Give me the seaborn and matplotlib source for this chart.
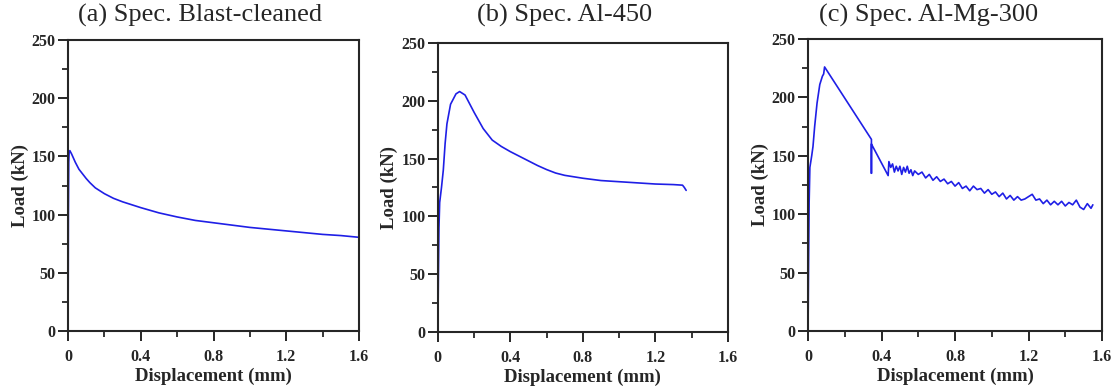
import numpy as np
import pandas as pd
import seaborn as sns
import matplotlib.pyplot as plt
from matplotlib.ticker import MultipleLocator

# (a) Spec. Blast-cleaned
disp_a = [0.0, 0.001, 0.002, 0.004, 0.006, 0.01, 0.02, 0.04, 0.06, 0.08, 0.1, 0.12, 0.15, 0.2,
          0.25, 0.3, 0.35, 0.4, 0.5, 0.6, 0.7, 0.8, 0.9, 1.0, 1.1, 1.2, 1.3, 1.4, 1.5, 1.6]
load_a = [0, 40, 100, 145, 153, 155, 152, 145, 139, 135, 131, 127.5, 123, 118,
          114, 111, 108.5, 106, 101.5, 98, 95, 93, 91, 89, 87.5, 86, 84.5, 83, 82, 80.5]

# (b) Spec. Al-450
disp_b = [0.0, 0.003, 0.006, 0.01, 0.02, 0.03, 0.04, 0.05, 0.07, 0.1, 0.12, 0.15, 0.2, 0.25,
          0.3, 0.35, 0.4, 0.45, 0.5, 0.55, 0.6, 0.65, 0.7, 0.8, 0.9, 1.0, 1.1, 1.2, 1.3, 1.35,
          1.36, 1.37]
load_b = [0, 50, 90, 112, 125, 140, 163, 180, 197, 206, 208, 205, 190, 176,
          166, 160.5, 156, 152, 148, 144, 140.5, 137.5, 135.5, 133, 131, 130, 129, 128, 127.5, 127,
          125, 122.5]

# (c) Spec. Al-Mg-300
disp_c = [0.0, 0.003, 0.006, 0.01, 0.02, 0.027, 0.036, 0.049, 0.064, 0.078, 0.085, 0.09,
          0.345, 0.345, 0.345, 0.436,
          0.44, 0.45, 0.46, 0.47, 0.48, 0.49, 0.50, 0.51, 0.52, 0.53, 0.54, 0.55, 0.56, 0.57,
          0.58, 0.60, 0.62, 0.64, 0.66, 0.68, 0.70, 0.72, 0.74, 0.76, 0.78, 0.80, 0.82, 0.84,
          0.86, 0.88, 0.90, 0.92, 0.94, 0.96, 0.98, 1.00, 1.02, 1.04, 1.06, 1.08, 1.10, 1.12,
          1.14, 1.16, 1.18, 1.20, 1.22, 1.24, 1.26, 1.28, 1.30, 1.32, 1.34, 1.36, 1.38, 1.40,
          1.42, 1.44, 1.46, 1.48, 1.50, 1.52, 1.54, 1.55]
load_c = [0, 60, 110, 140, 150, 158, 175, 195, 211, 218, 220, 226,
          164, 135, 160, 133,
          145, 140, 143, 136, 141, 137, 141, 134, 140, 136, 141, 135, 138, 133,
          137, 134, 136, 131, 134, 129, 132, 128, 130, 126, 128, 124, 127, 122,
          124, 120, 124, 121, 122, 118, 121, 117, 119, 115, 118, 113, 116, 112,
          115, 112, 113, 115, 117, 112, 113, 109, 112, 108, 111, 108, 111, 107,
          110, 108, 112, 106, 104, 109, 105, 108]

titles = ["(a) Spec. Blast-cleaned", "(b) Spec. Al-450", "(c) Spec. Al-Mg-300"]
series = [(disp_a, load_a), (disp_b, load_b), (disp_c, load_c)]

sns.set_style("ticks")
plt.rcParams['font.family'] = ['Liberation Serif', 'DejaVu Serif']

fig = plt.figure(figsize=(11.17, 3.91), dpi=100)

# axes boxes in figure fractions and title centres
boxes = [[0.0609, 0.1535, 0.2605, 0.744],
         [0.3920, 0.1510, 0.2596, 0.739],
         [0.7234, 0.1535, 0.2632, 0.747]]
title_x = [0.179, 0.505, 0.831]

for i, (x, y) in enumerate(series):
    ax = fig.add_axes(boxes[i])
    df = pd.DataFrame({"disp": x, "load": y})
    sns.lineplot(data=df, x="disp", y="load", sort=False, estimator=None,
                 color="#1f1fe6", linewidth=1.2, ax=ax)
    ax.set_xlim(0, 1.6)
    ax.set_ylim(0, 250)
    ax.xaxis.set_major_locator(MultipleLocator(0.4))
    ax.xaxis.set_minor_locator(MultipleLocator(0.2))
    ax.yaxis.set_major_locator(MultipleLocator(50))
    ax.yaxis.set_minor_locator(MultipleLocator(25))
    ax.set_xticks([0, 0.4, 0.8, 1.2, 1.6])
    ax.set_xticklabels(["0", "0.4", "0.8", "1.2", "1.6"])
    ax.tick_params(which="major", direction="out", length=7, width=1.4,
                   labelsize=11.5)
    ax.tick_params(axis="x", which="major", pad=6)
    ax.tick_params(axis="y", which="major", pad=2)
    ax.tick_params(which="minor", direction="out", length=4.3, width=1.3)
    for lab in ax.get_xticklabels() + ax.get_yticklabels():
        lab.set_fontweight("bold")
    for sp in ax.spines.values():
        sp.set_visible(True)
        sp.set_linewidth(1.5)
    ax.set_xlabel("Displacement (mm)", fontsize=13.5, fontweight="bold", labelpad=2)
    ax.set_ylabel("Load (kN)", fontsize=13.5, fontweight="bold", labelpad=2)
    fig.text(title_x[i], 1 - 22 / 391, titles[i], ha="center", va="baseline", fontsize=19)

fig.savefig("out.png", dpi=100)
